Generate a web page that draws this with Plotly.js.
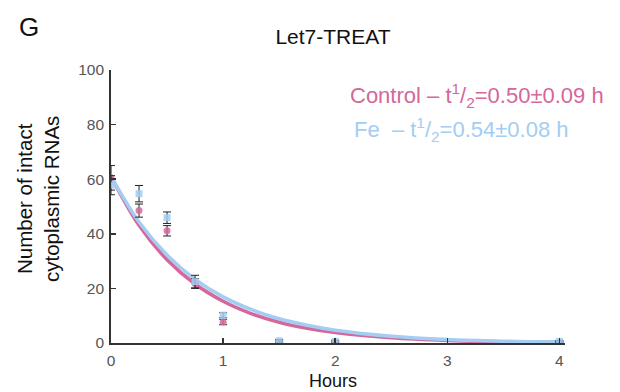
<!DOCTYPE html>
<html>
<head>
<meta charset="utf-8">
<script src="https://cdn.plot.ly/plotly-3.0.1.min.js"></script>
<style>html,body{margin:0;padding:0;background:#fff;}#chart{width:620px;height:392px;}</style>
</head>
<body>
<div id="chart"></div>
<script>
// Measured data points (hours)
const timePoints = [0, 0.25, 0.5, 0.75, 1, 1.5, 2, 4];
const controlMean = [60.5, 48.5, 41.1, 21.8, 7.7, 0.3, 0.3, 0.3];
const controlErr  = [4.5, 2.4, 1.9, 1.8, 1.0, 0.5, 0.4, 0.3];
const feMean      = [57.8, 54.7, 45.9, 22.5, 10.2, 0.8, 0.6, 0.6];
const feErr       = [3.5, 3.0, 2.1, 2.3, 0.9, 0.5, 0.4, 0.3];

// Fitted decay curves
const fitTime    = [0, 0.25, 0.5, 0.75, 1, 1.25, 1.5, 1.75, 2, 2.5, 3, 3.5, 4];
const controlFit = [61, 43.1, 30.5, 21.6, 15.3, 10.8, 7.6, 5.4, 3.8, 1.9, 0.95, 0.48, 0.24];
const feFit      = [61, 44.3, 32.2, 23.3, 16.9, 12.3, 8.9, 6.5, 4.7, 2.5, 1.3, 0.68, 0.36];

const xTicks = [0, 1, 2, 3, 4];
const yTicks = [0, 20, 40, 60, 80, 100];

const pink = '#d5679a';
const blue = '#a3cdf2';

const W = 620, H = 392;
const M = {l: 111, r: 55, t: 70, b: 49};
const pw = W - M.l - M.r, ph = H - M.t - M.b;
const px = v => (v - M.l) / pw;      // pixel x -> paper x
const py = v => (H - M.b - v) / ph;  // pixel y -> paper y

const traces = [
  {x: fitTime, y: controlFit, mode: 'lines', line: {color: pink, width: 3.5, shape: 'spline'}, hoverinfo: 'skip'},
  {x: fitTime, y: feFit, mode: 'lines', line: {color: blue, width: 3.5, shape: 'spline'}, hoverinfo: 'skip'},
  {x: timePoints, y: controlMean, mode: 'markers',
   marker: {symbol: 'circle', size: 7, color: pink, opacity: 0.85},
   error_y: {type: 'data', array: controlErr, visible: true, color: '#222', thickness: 1, width: 4}},
  {x: timePoints, y: feMean, mode: 'markers',
   marker: {symbol: 'square', size: 7, color: blue, opacity: 0.85},
   error_y: {type: 'data', array: feErr, visible: true, color: '#222', thickness: 1, width: 4}}
];

const layout = {
  width: W, height: H,
  margin: M,
  paper_bgcolor: '#fff', plot_bgcolor: '#fff',
  showlegend: false,
  font: {family: 'Liberation Sans, Arial, sans-serif', color: '#111'},
  title: {text: 'Let7-TREAT', x: 333 / W, xanchor: 'center', y: 1 - 37 / H, yanchor: 'middle',
          font: {size: 21, color: '#111'}},
  xaxis: {range: [0, 4.05], tickvals: xTicks, ticks: 'inside', ticklen: 5, tickwidth: 1.5,
          tickcolor: '#333', showline: true, linecolor: '#333', linewidth: 1.8,
          showgrid: false, zeroline: false, ticklabelstandoff: 3,
          tickfont: {size: 15.5, color: '#555'}},
  yaxis: {range: [0, 100], tickvals: yTicks, ticks: 'inside', ticklen: 5, tickwidth: 1.5,
          tickcolor: '#333', showline: true, linecolor: '#333', linewidth: 1.8,
          showgrid: false, zeroline: false, ticklabelstandoff: 2,
          tickfont: {size: 15.5, color: '#555'}},
  annotations: [
    {text: 'G', xref: 'paper', yref: 'paper', x: px(29), y: py(27),
     xanchor: 'center', yanchor: 'middle', showarrow: false, font: {size: 26, color: '#111'}},
    {text: 'Number of intact<br>cytoplasmic RNAs', xref: 'paper', yref: 'paper', x: px(38), y: py(199),
     xanchor: 'center', yanchor: 'middle', textangle: -90, showarrow: false,
     font: {size: 20.5, color: '#111'}},
    {text: 'Hours', xref: 'paper', yref: 'paper', x: px(333), y: py(381),
     xanchor: 'center', yanchor: 'middle', showarrow: false, font: {size: 18, color: '#111'}},
    {text: 'Control – t<sup>1</sup>/<sub>2</sub>=0.50±0.09 h', xref: 'paper', yref: 'paper',
     x: px(606), y: py(95), xanchor: 'right', yanchor: 'middle',
     showarrow: false, font: {size: 22, color: pink}},
    {text: 'Fe  – t<sup>1</sup>/<sub>2</sub>=0.54±0.08 h', xref: 'paper', yref: 'paper',
     x: px(352), y: py(129), xanchor: 'left', yanchor: 'middle',
     showarrow: false, font: {size: 22, color: blue}}
  ]
};

Plotly.newPlot('chart', traces, layout, {displayModeBar: false, staticPlot: true});
</script>
</body>
</html>
